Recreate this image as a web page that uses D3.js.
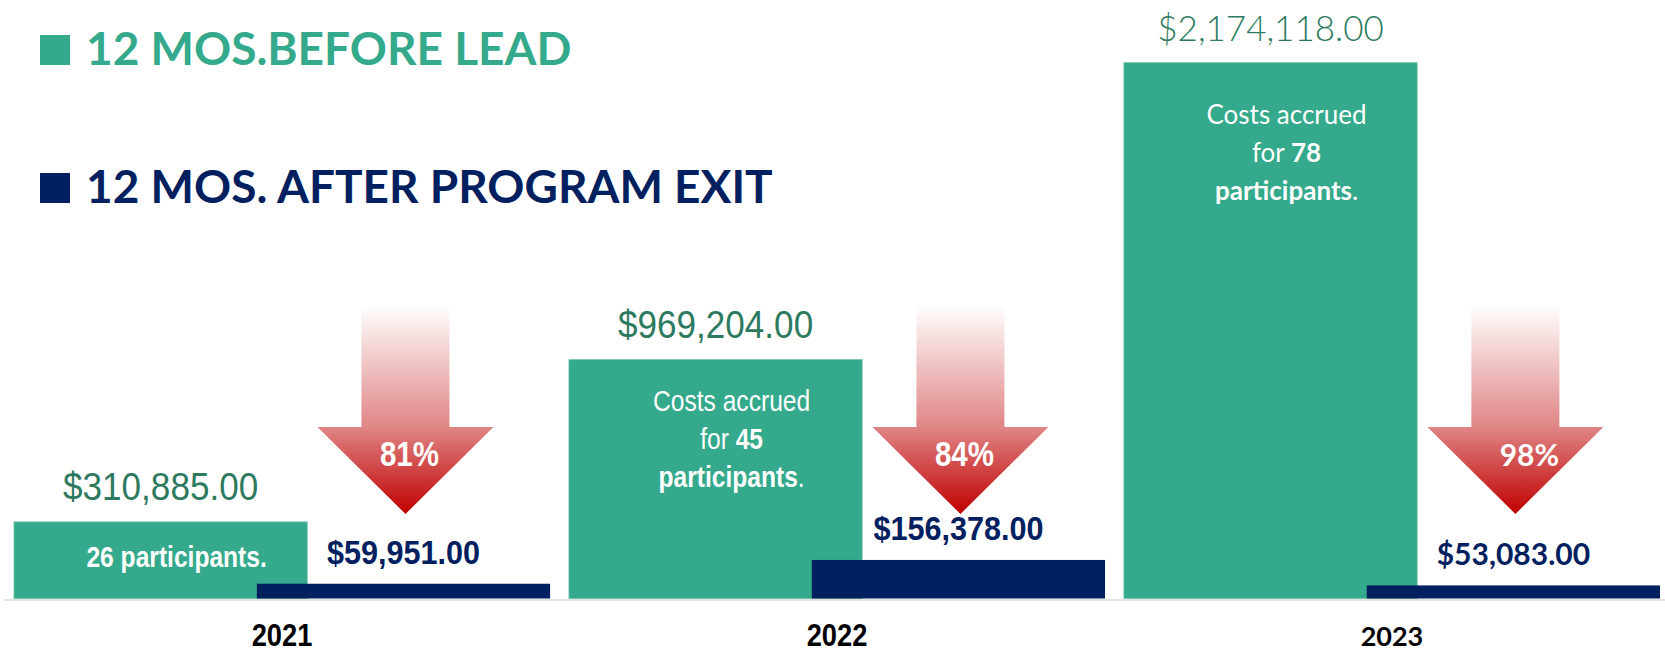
<!DOCTYPE html>
<html>
<head>
<meta charset="utf-8">
<script src="https://cdn.jsdelivr.net/npm/d3@7"></script>
<style>
  body { margin: 0; background: #fff; }
</style>
</head>
<body>
<svg></svg>
<script>
// Chart data
let years = ['2021', '2022', '2023'];
let beforeValues = [310885, 969204, 2174118];
let afterValues = [59951, 156378, 53083];
let participants = [26, 45, 78];
let reductions = ['81%', '84%', '98%'];
let legendLabels = ['12 MOS.BEFORE LEAD', '12 MOS. AFTER PROGRAM EXIT'];

// Canvas size and colours
let width = 1665;
let height = 652;
let baseline = 598.5;

let green = '#34a98b';
let navy = '#002060';
let greenText = '#2d7a60';

// no narrow font installed: squeeze Liberation Sans horizontally instead
let narrow = '"Liberation Sans", Arial, sans-serif';
let humanist = 'Lato, Roboto, sans-serif';
// the 2023 group uses a different typeface in the original slide
let fontFor = (i) => i === 2 ? humanist : narrow;
let place = (x, y, i, sx) => `translate(${x},${y}) scale(${i === 2 ? 1 : sx},1)`;

let svg = d3.select('svg')
    .attr('width', width)
    .attr('height', height);

// Scales
let xScale = d3.scaleBand()
    .domain(years)
    .range([14, 1660])
    .paddingInner(0.034);

let yScale = d3.scaleLinear()
    .domain([0, d3.max(beforeValues)])
    .range([baseline, 62.7]);

let money = d3.format('$,.2f');
let band = xScale.bandwidth();
let barW = band * 0.547;
let beforeX = (i) => xScale(years[i]);
let afterX = (i) => xScale(years[i]) + band - barW;

// Gradient for the arrows
let grad = svg.append('defs').append('linearGradient')
    .attr('id', 'fade')
    .attr('gradientUnits', 'userSpaceOnUse')
    .attr('x1', 0).attr('y1', 305)
    .attr('x2', 0).attr('y2', 514);
grad.append('stop').attr('offset', 0).attr('stop-color', '#ffffff');
grad.append('stop').attr('offset', 0.58).attr('stop-color', '#e08686');
grad.append('stop').attr('offset', 1).attr('stop-color', '#c00000');

// Legend
let legend = svg.append('g');
legendLabels.forEach((label, i) => {
    let y = i === 0 ? 35 : 173;
    let c = i === 0 ? green : navy;
    legend.append('rect')
        .attr('x', 40).attr('y', y)
        .attr('width', 30).attr('height', 30)
        .attr('fill', c);
    legend.append('text')
        .attr('x', 86).attr('y', y + 30)
        .attr('fill', c)
        .style('font-family', humanist)
        .style('font-weight', 700)
        .style('font-size', '46px')
        .text(label);
});

// Baseline axis with year labels
svg.append('line')
    .attr('x1', 4).attr('x2', width)
    .attr('y1', 600).attr('y2', 600)
    .attr('stroke', '#d9d9d9')
    .attr('stroke-width', 1.5);

let xAxis = d3.axisBottom(xScale).tickSize(0);
let axisG = svg.append('g')
    .attr('transform', `translate(0, 600)`)
    .call(xAxis);
axisG.select('.domain').remove();
axisG.selectAll('text')
    .attr('y', 0)
    .attr('dy', 0)
    .attr('transform', (d, i) => place(0, 46, i, 0.88))
    .attr('fill', '#000')
    .style('font-family', (d, i) => fontFor(i))
    .style('font-weight', 700)
    .style('font-size', (d, i) => i === 2 ? '27px' : '31px');

// Before bars (green)
svg.selectAll('.before')
    .data(beforeValues)
    .enter()
    .append('rect')
    .attr('class', 'before')
    .attr('x', (d, i) => beforeX(i))
    .attr('y', (d) => yScale(d))
    .attr('width', barW)
    .attr('height', (d) => baseline - yScale(d))
    .attr('fill', green)
    .attr('stroke', '#6cc2a7')
    .attr('stroke-width', 0.8);

// After bars (navy)
svg.selectAll('.after')
    .data(afterValues)
    .enter()
    .append('rect')
    .attr('class', 'after')
    .attr('x', (d, i) => afterX(i))
    .attr('y', (d) => yScale(d))
    .attr('width', barW)
    .attr('height', (d) => baseline - yScale(d))
    .attr('fill', navy);

// Value labels above bars
svg.selectAll('.before-label')
    .data(beforeValues)
    .enter()
    .append('text')
    .attr('class', 'before-label')
    .attr('transform', (d, i) => place(beforeX(i) + barW / 2, yScale(d) - 22, i, 0.9))
    .attr('text-anchor', 'middle')
    .attr('fill', greenText)
    .style('font-family', (d, i) => fontFor(i))
    .style('font-weight', (d, i) => i === 2 ? 300 : 400)
    .style('font-size', (d, i) => i === 2 ? '35px' : '39px')
    .text((d) => money(d));

svg.selectAll('.after-label')
    .data(afterValues)
    .enter()
    .append('text')
    .attr('class', 'after-label')
    .attr('transform', (d, i) => place(afterX(i) + barW / 2, yScale(d) - 20, i, 0.9))
    .attr('text-anchor', 'middle')
    .attr('fill', navy)
    .style('font-family', (d, i) => fontFor(i))
    .style('font-weight', 700)
    .style('font-size', (d, i) => i === 2 ? '30px' : '34px')
    .text((d) => money(d));

// Notes inside the green bars
participants.forEach((n, i) => {
    let cx = beforeX(i) + barW / 2 + 16;
    let top = yScale(beforeValues[i]);
    let note = svg.append('text')
        .attr('transform', place(cx, 0, i, 0.82))
        .attr('text-anchor', 'middle')
        .attr('fill', '#fff')
        .style('font-family', fontFor(i))
        .style('font-size', i === 2 ? '26px' : '30px');
    if (baseline - top < 120) {
        note.attr('x', 0).attr('y', top + 45)
            .style('font-weight', 700)
            .text(`${n} participants.`);
    } else {
        let y0 = top + (i === 2 ? 61 : 51);
        note.append('tspan').attr('x', 0).attr('y', y0).text('Costs accrued');
        let l2 = note.append('tspan').attr('x', 0).attr('y', y0 + 38);
        l2.append('tspan').text('for ');
        l2.append('tspan').style('font-weight', 700).text(n);
        let l3 = note.append('tspan').attr('x', 0).attr('y', y0 + 76);
        l3.append('tspan').style('font-weight', 700).text('participants');
        l3.append('tspan').text('.');
    }
});

// Reduction arrows
let arrowPath = (cx) => {
    let p = d3.path();
    p.moveTo(cx - 44, 305);
    p.lineTo(cx + 44, 305);
    p.lineTo(cx + 44, 427);
    p.lineTo(cx + 88, 427);
    p.lineTo(cx, 514);
    p.lineTo(cx - 88, 427);
    p.lineTo(cx - 44, 427);
    p.closePath();
    return p.toString();
};

svg.selectAll('.arrow')
    .data(reductions)
    .enter()
    .append('path')
    .attr('class', 'arrow')
    .attr('d', (d, i) => arrowPath(afterX(i) + barW / 2 + 2))
    .attr('fill', 'url(#fade)');

svg.selectAll('.arrow-label')
    .data(reductions)
    .enter()
    .append('text')
    .attr('class', 'arrow-label')
    .attr('transform', (d, i) => place(afterX(i) + barW / 2 + (i === 2 ? 16 : 6), 466, i, 0.82))
    .attr('text-anchor', 'middle')
    .attr('fill', '#fff')
    .style('font-family', (d, i) => fontFor(i))
    .style('font-weight', 700)
    .style('font-size', (d, i) => i === 2 ? '30px' : '36px')
    .text((d) => d);
</script>
</body>
</html>
